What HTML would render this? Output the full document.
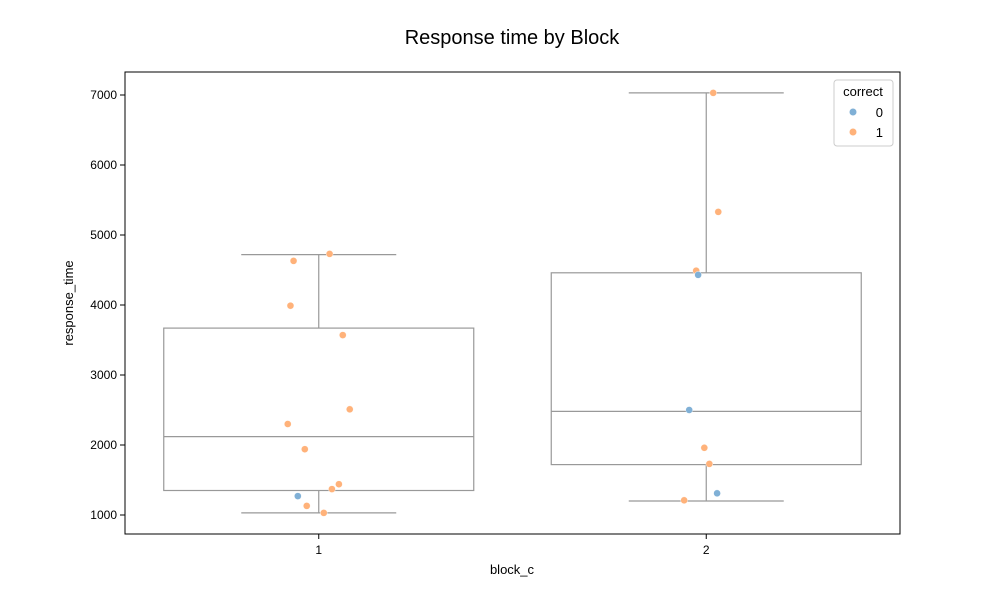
<!DOCTYPE html>
<html><head><meta charset="utf-8"><style>
body{margin:0;background:#fff;font-family:"Liberation Sans",sans-serif}
svg text{font-family:"Liberation Sans",sans-serif}
</style></head><body>
<svg id="c" width="1000" height="600" xmlns="http://www.w3.org/2000/svg"></svg>
<script>
const categories=["1","2"];
const q1=[1350,1720], med=[2120,2480], q3=[3670,4460], wlo=[1030,1200], whi=[4720,7030];
const ptCat=[0,0,0,0,0,0,0,0,0,0,0,0,1,1,1,1,1,1,1,1,1];
const ptVal=[4630,3990,4730,3570,2510,2300,1940,1270,1440,1370,1130,1030,7030,5330,4490,4430,2500,1960,1730,1310,1210];
const ptJit=[-0.065,-0.073,0.028,0.062,0.080,-0.080,-0.036,-0.054,0.052,0.034,-0.031,0.013,0.018,0.031,-0.026,-0.021,-0.044,-0.005,0.008,0.028,-0.057];
const ptCorrect=[1,1,1,1,1,1,1,0,1,1,1,1,1,1,1,0,0,1,1,0,1];
const yTicks=[1000,2000,3000,4000,5000,6000,7000];
const L=125,R=900,T=72,B=534;
const sx=i=>L+(R-L)*(i+0.5)/categories.length;
const bw=(R-L)/categories.length*0.8;
const sy=v=>515-(v-1000)*0.07;
const svg=document.getElementById('c');const NS='http://www.w3.org/2000/svg';
function mk(t,a,p){const e=document.createElementNS(NS,t);for(const k in a)e.setAttribute(k,a[k]);(p||svg).appendChild(e);return e;}
let t=mk('text',{x:512,y:44,'text-anchor':'middle','font-size':20,fill:'#000'});t.textContent='Response time by Block';


categories.forEach((c,i)=>{
 const g=mk('g',{stroke:'#999','stroke-width':1.2,fill:'none'});
 
 
 const x=sx(i);
 mk('rect',{x:x-bw/2,y:sy(q3[i]),width:bw,height:sy(q1[i])-sy(q3[i])},g);
 mk('line',{x1:x-bw/2,x2:x+bw/2,y1:sy(med[i]),y2:sy(med[i])},g);
 mk('line',{x1:x,x2:x,y1:sy(q1[i]),y2:sy(wlo[i])},g);
 mk('line',{x1:x,x2:x,y1:sy(q3[i]),y2:sy(whi[i])},g);
 mk('line',{x1:x-bw/4,x2:x+bw/4,y1:sy(wlo[i]),y2:sy(wlo[i])},g);
 mk('line',{x1:x-bw/4,x2:x+bw/4,y1:sy(whi[i]),y2:sy(whi[i])},g);
 mk('line',{x1:x,x2:x,y1:B,y2:B+5,stroke:'#000'});
 const tl=mk('text',{x:x,y:B+20,'text-anchor':'middle','font-size':12});tl.textContent=c;
 
 
});
ptVal.forEach((v,k)=>{
 const p=mk('circle',{cx:sx(ptCat[k])+ptJit[k]*(R-L)/categories.length,cy:sy(v),r:3.5,fill:ptCorrect[k]?'#ffb27a':'#80b0d6',stroke:'#fff','stroke-width':0.4});
 
 
});
yTicks.forEach(v=>{
 mk('line',{x1:L-5,x2:L,y1:sy(v),y2:sy(v),stroke:'#000'});
 const tl=mk('text',{x:L-8,y:sy(v)+4,'text-anchor':'end','font-size':12});tl.textContent=v;
 
 
});
const fr=mk('rect',{x:L,y:T,width:R-L,height:B-T,fill:'none',stroke:'#000','stroke-width':1});


let xl=mk('text',{x:512,y:574,'text-anchor':'middle','font-size':13});xl.textContent='block_c';


let yl=mk('text',{x:73,y:303,'text-anchor':'middle','font-size':13,transform:'rotate(-90 73 303)'});yl.textContent='response_time';


const lg=mk('g',{});


mk('rect',{x:834,y:80,width:59,height:66,rx:3,fill:'#fff',stroke:'#ccc'},lg);
let lt=mk('text',{x:863,y:96,'text-anchor':'middle','font-size':13},lg);lt.textContent='correct';
[['0','#80b0d6',112],['1','#ffb27a',132]].forEach(([n,c,y])=>{
 mk('circle',{cx:853,cy:y,r:3.5,fill:c},lg);
 const e=mk('text',{x:883,y:y+5,'text-anchor':'end','font-size':13},lg);e.textContent=n;
 
 
});
</script>
</body></html>
